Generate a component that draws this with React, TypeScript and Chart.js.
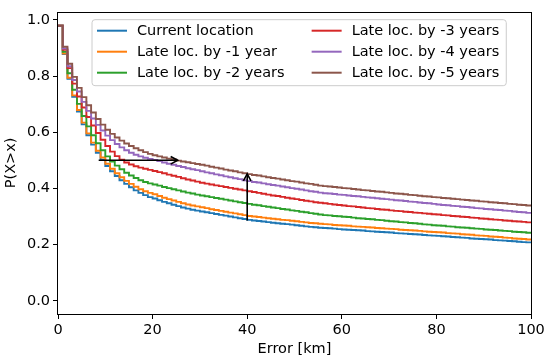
import { useEffect, useRef } from "react";
import { Chart, registerables } from "chart.js";

Chart.register(...registerables);

// ---------- data ----------
const SERIES_LABELS = [
  "Current location",
  "Late loc. by -1 year",
  "Late loc. by -2 years",
  "Late loc. by -3 years",
  "Late loc. by -4 years",
  "Late loc. by -5 years",
];
const SERIES_COLORS = ["#1f77b4", "#ff7f0e", "#2ca02c", "#d62728", "#9467bd", "#8c564b"];

// P(X>x) sampled at every 1 km from 0 to 100 km
const STEP_KM = 1;

const CURRENT = [
  0.979, 0.878, 0.790, 0.726, 0.674, 0.628, 0.589, 0.556, 0.527, 0.502, 0.480,
  0.461, 0.444, 0.429, 0.416, 0.404, 0.393, 0.384, 0.376, 0.369, 0.364,
  0.358, 0.352, 0.347, 0.342, 0.337, 0.332, 0.328, 0.324, 0.321, 0.318,
  0.315, 0.312, 0.309, 0.306, 0.303, 0.300, 0.297, 0.294, 0.291, 0.288,
  0.286, 0.284, 0.282, 0.280, 0.278, 0.276, 0.274, 0.273, 0.271, 0.269, 0.267, 0.265, 0.263, 0.262, 0.260,
  0.259, 0.258, 0.257, 0.255, 0.254, 0.253, 0.252, 0.251, 0.250, 0.248, 0.247, 0.246, 0.245, 0.244, 0.243,
  0.241, 0.240, 0.239, 0.238, 0.237, 0.236, 0.234, 0.233, 0.232, 0.231,
  0.230, 0.229, 0.227, 0.226, 0.225, 0.224, 0.222, 0.221, 0.220, 0.219,
  0.218, 0.216, 0.215, 0.214, 0.213, 0.212, 0.210, 0.209, 0.208, 0.207,
];
const LATE_1 = [
  0.979, 0.880, 0.794, 0.731, 0.679, 0.634, 0.596, 0.563, 0.534, 0.510, 0.488,
  0.470, 0.454, 0.440, 0.427, 0.416, 0.406, 0.397, 0.390, 0.384, 0.379,
  0.373, 0.367, 0.362, 0.357, 0.352, 0.347, 0.343, 0.339, 0.336, 0.333,
  0.330, 0.326, 0.323, 0.320, 0.317, 0.314, 0.311, 0.308, 0.305, 0.302,
  0.300, 0.298, 0.296, 0.294, 0.292, 0.290, 0.288, 0.287, 0.285, 0.283, 0.281, 0.279, 0.277, 0.276, 0.274,
  0.273, 0.272, 0.270, 0.269, 0.268, 0.267, 0.265, 0.264, 0.263, 0.262, 0.261, 0.259, 0.258, 0.257, 0.256,
  0.255, 0.253, 0.252, 0.251, 0.250, 0.249, 0.247, 0.246, 0.245, 0.244,
  0.243, 0.241, 0.240, 0.239, 0.237, 0.236, 0.235, 0.233, 0.232, 0.231,
  0.229, 0.228, 0.227, 0.225, 0.224, 0.222, 0.221, 0.220, 0.218, 0.217,
];
const LATE_2 = [
  0.979, 0.886, 0.810, 0.751, 0.701, 0.658, 0.621, 0.589, 0.561, 0.536, 0.514,
  0.496, 0.481, 0.468, 0.456, 0.446, 0.437, 0.429, 0.423, 0.418, 0.414,
  0.410, 0.405, 0.401, 0.397, 0.393, 0.389, 0.385, 0.382, 0.378, 0.375,
  0.372, 0.369, 0.366, 0.363, 0.360, 0.357, 0.354, 0.351, 0.348, 0.345,
  0.342, 0.340, 0.337, 0.335, 0.332, 0.330, 0.327, 0.325, 0.322, 0.320, 0.317, 0.315, 0.312, 0.310, 0.307,
  0.305, 0.304, 0.302, 0.301, 0.299, 0.298, 0.296, 0.294, 0.293, 0.291, 0.290, 0.288, 0.287, 0.285, 0.283,
  0.282, 0.280, 0.279, 0.277, 0.276, 0.274, 0.272, 0.271, 0.269, 0.268,
  0.267, 0.265, 0.264, 0.262, 0.261, 0.260, 0.258, 0.257, 0.256, 0.254,
  0.253, 0.252, 0.250, 0.249, 0.248, 0.246, 0.245, 0.244, 0.242, 0.241,
];
const LATE_3 = [
  0.979, 0.893, 0.828, 0.773, 0.727, 0.688, 0.654, 0.624, 0.597, 0.573, 0.551,
  0.531, 0.515, 0.502, 0.492, 0.485, 0.479, 0.474, 0.470, 0.466, 0.462,
  0.458, 0.454, 0.449, 0.445, 0.441, 0.436, 0.432, 0.428, 0.424, 0.420,
  0.417, 0.414, 0.411, 0.408, 0.405, 0.402, 0.399, 0.396, 0.393, 0.390,
  0.387, 0.384, 0.381, 0.378, 0.375, 0.373, 0.370, 0.367, 0.364, 0.362, 0.359, 0.356, 0.354, 0.351, 0.349,
  0.347, 0.345, 0.343, 0.341, 0.339, 0.337, 0.336, 0.334, 0.332, 0.330, 0.329, 0.327, 0.325, 0.324, 0.322,
  0.320, 0.319, 0.317, 0.316, 0.314, 0.313, 0.311, 0.310, 0.308, 0.307,
  0.305, 0.304, 0.302, 0.301, 0.299, 0.298, 0.296, 0.295, 0.293, 0.292,
  0.290, 0.289, 0.288, 0.286, 0.285, 0.283, 0.282, 0.281, 0.279, 0.278,
];
const LATE_4 = [
  0.979, 0.898, 0.835, 0.786, 0.745, 0.708, 0.676, 0.649, 0.626, 0.606, 0.588,
  0.572, 0.558, 0.546, 0.536, 0.527, 0.520, 0.514, 0.509, 0.505, 0.501,
  0.497, 0.492, 0.488, 0.484, 0.480, 0.476, 0.472, 0.468, 0.465, 0.461,
  0.457, 0.454, 0.450, 0.447, 0.443, 0.440, 0.436, 0.433, 0.429, 0.426,
  0.423, 0.421, 0.418, 0.415, 0.412, 0.410, 0.407, 0.404, 0.401, 0.399, 0.396, 0.393, 0.390, 0.388, 0.385,
  0.383, 0.382, 0.380, 0.378, 0.377, 0.375, 0.373, 0.372, 0.370, 0.368, 0.367, 0.365, 0.363, 0.362, 0.360,
  0.358, 0.357, 0.355, 0.353, 0.352, 0.350, 0.348, 0.347, 0.345, 0.343,
  0.341, 0.340, 0.338, 0.337, 0.335, 0.334, 0.332, 0.330, 0.329, 0.327,
  0.326, 0.324, 0.323, 0.321, 0.320, 0.318, 0.316, 0.315, 0.313, 0.312,
];
const LATE_5 = [
  0.979, 0.904, 0.844, 0.797, 0.758, 0.725, 0.696, 0.670, 0.647, 0.627, 0.609,
  0.594, 0.581, 0.570, 0.560, 0.551, 0.543, 0.536, 0.529, 0.523, 0.518,
  0.514, 0.510, 0.506, 0.503, 0.499, 0.496, 0.493, 0.490, 0.487, 0.484,
  0.481, 0.477, 0.474, 0.471, 0.467, 0.464, 0.461, 0.457, 0.454, 0.451,
  0.448, 0.446, 0.443, 0.440, 0.437, 0.435, 0.432, 0.429, 0.426, 0.424, 0.421, 0.418, 0.416, 0.413, 0.410,
  0.408, 0.407, 0.405, 0.403, 0.401, 0.400, 0.398, 0.396, 0.394, 0.393, 0.391, 0.389, 0.388, 0.386, 0.384,
  0.382, 0.381, 0.379, 0.377, 0.376, 0.374, 0.372, 0.371, 0.369, 0.368,
  0.366, 0.365, 0.363, 0.362, 0.360, 0.359, 0.357, 0.356, 0.354, 0.353,
  0.351, 0.350, 0.348, 0.347, 0.345, 0.344, 0.342, 0.341, 0.339, 0.338,
];
const SERIES_VALUES = [CURRENT, LATE_1, LATE_2, LATE_3, LATE_4, LATE_5];

const X_TICKS = [0, 20, 40, 60, 80, 100];
const Y_TICKS = [0.0, 0.2, 0.4, 0.6, 0.8, 1.0];
const X_RANGE = [0, 100];
const Y_RANGE = [-0.047, 1.029];

// annotation arrows (data coordinates)
const ARROW_H_X = [8.6, 25.3];
const ARROW_H_Y = [0.5, 0.5];
const ARROW_V_X = [40, 40];
const ARROW_V_Y = [0.286, 0.452];

const X_TITLE = "Error [km]";
const Y_TITLE = "P(X>x)";

const FONT = '"DejaVu Sans", sans-serif';
const FS = 14.5;

function drawArrow(ctx: CanvasRenderingContext2D, x0: number, y0: number, x1: number, y1: number) {
  const ang = Math.atan2(y1 - y0, x1 - x0);
  const hl = 7;
  const hw = 3.8;
  ctx.save();
  ctx.strokeStyle = "#000";
  ctx.lineWidth = 1.6;
  ctx.lineCap = "butt";
  ctx.beginPath();
  ctx.moveTo(x0, y0);
  ctx.lineTo(x1, y1);
  ctx.stroke();
  const bx = x1 - hl * Math.cos(ang);
  const by = y1 - hl * Math.sin(ang);
  const px = -Math.sin(ang) * hw;
  const py = Math.cos(ang) * hw;
  ctx.beginPath();
  ctx.moveTo(bx + px, by + py);
  ctx.lineTo(x1, y1);
  ctx.lineTo(bx - px, by - py);
  ctx.stroke();
  ctx.restore();
}

const overlayPlugin = {
  id: "overlay",
  afterDatasetsDraw(chart: any) {
    const { ctx, chartArea: a, scales } = chart;
    const xs = scales.x;
    const ys = scales.y;
    // arrows
    drawArrow(
      ctx,
      xs.getPixelForValue(ARROW_H_X[0]), ys.getPixelForValue(ARROW_H_Y[0]),
      xs.getPixelForValue(ARROW_H_X[1]), ys.getPixelForValue(ARROW_H_Y[1])
    );
    drawArrow(
      ctx,
      xs.getPixelForValue(ARROW_V_X[0]), ys.getPixelForValue(ARROW_V_Y[0]),
      xs.getPixelForValue(ARROW_V_X[1]), ys.getPixelForValue(ARROW_V_Y[1])
    );
    // frame
    ctx.save();
    ctx.strokeStyle = "#000";
    ctx.lineWidth = 1;
    const l = Math.round(a.left) - 0.5;
    const t = Math.round(a.top) + 0.5;
    const r = Math.round(a.right) + 0.5;
    const b = Math.round(a.bottom) + 0.5;
    ctx.strokeRect(l, t, r - l, b - t);
    ctx.restore();

    // legend (two columns, matplotlib style)
    ctx.save();
    ctx.font = `${FS}px ${FONT}`;
    const boxLeft = 92;
    const boxTop = a.top + 8;
    const pad = 5;
    const handleLen = 30;
    const textPad = 10;
    const colSpacing = 27;
    const rowPitch = 21;
    const firstRow = boxTop + 11;
    const col1Labels = SERIES_LABELS.slice(0, 3);
    const col2Labels = SERIES_LABELS.slice(3);
    const w1 = Math.max(...col1Labels.map((s) => ctx.measureText(s).width));
    const w2 = Math.max(...col2Labels.map((s) => ctx.measureText(s).width));
    const c1h = boxLeft + pad;
    const c1t = c1h + handleLen + textPad;
    const c2h = c1t + w1 + colSpacing;
    const c2t = c2h + handleLen + textPad;
    const boxRight = c2t + w2 + pad + 2;
    const boxBottom = firstRow + rowPitch * 2 + 13;
    const rad = 3;
    ctx.beginPath();
    ctx.moveTo(boxLeft + rad, boxTop);
    ctx.arcTo(boxRight, boxTop, boxRight, boxBottom, rad);
    ctx.arcTo(boxRight, boxBottom, boxLeft, boxBottom, rad);
    ctx.arcTo(boxLeft, boxBottom, boxLeft, boxTop, rad);
    ctx.arcTo(boxLeft, boxTop, boxRight, boxTop, rad);
    ctx.closePath();
    ctx.fillStyle = "rgba(255,255,255,0.8)";
    ctx.fill();
    ctx.strokeStyle = "#cccccc";
    ctx.lineWidth = 1;
    ctx.stroke();
    ctx.textBaseline = "middle";
    ctx.textAlign = "left";
    SERIES_LABELS.forEach((lab, i) => {
      const col = i < 3 ? 0 : 1;
      const row = i % 3;
      const hx = col === 0 ? c1h : c2h;
      const tx = col === 0 ? c1t : c2t;
      const yy = firstRow + row * rowPitch;
      ctx.strokeStyle = SERIES_COLORS[i];
      ctx.lineWidth = 2;
      ctx.beginPath();
      ctx.moveTo(hx, yy);
      ctx.lineTo(hx + handleLen, yy);
      ctx.stroke();
      ctx.fillStyle = "#000";
      ctx.fillText(lab, tx, yy + 0.5);
    });
    ctx.restore();
  },
};

export default function App() {
  const canvasRef = useRef<HTMLCanvasElement | null>(null);

  useEffect(() => {
    const canvas = canvasRef.current;
    if (!canvas) return;
    Chart.defaults.font.family = FONT;
    Chart.defaults.color = "#000";

    const datasets = SERIES_VALUES.map((vals, i) => ({
      label: SERIES_LABELS[i],
      data: vals.map((v, k) => ({ x: k * STEP_KM, y: v })),
      borderColor: SERIES_COLORS[i],
      backgroundColor: SERIES_COLORS[i],
      borderWidth: 1.9,
      pointRadius: 0,
      stepped: "before" as const,
      fill: false,
      order: SERIES_VALUES.length - 1 - i,
    }));

    const chart = new Chart(canvas, {
      type: "line",
      data: { datasets },
      options: {
        animation: false,
        responsive: false,
        devicePixelRatio: 1,
        layout: { padding: { left: 0, right: 19, top: 7, bottom: 0 } },
        plugins: {
          legend: { display: false },
          tooltip: { enabled: false },
        },
        scales: {
          x: {
            type: "linear",
            min: X_RANGE[0],
            max: X_RANGE[1],
            afterBuildTicks: (s: any) => {
              s.ticks = X_TICKS.map((v) => ({ value: v }));
            },
            afterFit: (s: any) => {
              s.height = 47;
            },
            ticks: {
              font: { size: FS },
              color: "#000",
              padding: 3,
              maxRotation: 0,
              autoSkip: false,
              callback: (v: any) => String(v),
            },
            grid: {
              drawOnChartArea: false,
              drawTicks: true,
              tickLength: 5,
              color: "#000",
              lineWidth: 1,
            },
            border: { display: false },
            title: {
              display: true,
              text: X_TITLE,
              font: { size: FS },
              color: "#000",
              padding: { top: 4, bottom: 3 },
            },
          },
          y: {
            type: "linear",
            min: Y_RANGE[0],
            max: Y_RANGE[1],
            afterBuildTicks: (s: any) => {
              s.ticks = Y_TICKS.map((v) => ({ value: v }));
            },
            afterFit: (s: any) => {
              s.width = 58;
            },
            ticks: {
              font: { size: FS },
              color: "#000",
              padding: 3,
              autoSkip: false,
              callback: (v: any) => Number(v).toFixed(1),
            },
            grid: {
              drawOnChartArea: false,
              drawTicks: true,
              tickLength: 5,
              color: "#000",
              lineWidth: 1,
            },
            border: { display: false },
            title: {
              display: true,
              text: Y_TITLE,
              font: { size: FS },
              color: "#000",
              padding: { top: 3, bottom: 4 },
            },
          },
        },
      },
      plugins: [overlayPlugin],
    });

    return () => {
      chart.destroy();
    };
  }, []);

  return (
    <div style={{ position: "fixed", left: 0, top: 0, width: 550, height: 361, background: "#fff" }}>
      <canvas ref={canvasRef} width={550} height={361} style={{ display: "block" }} />
    </div>
  );
}
